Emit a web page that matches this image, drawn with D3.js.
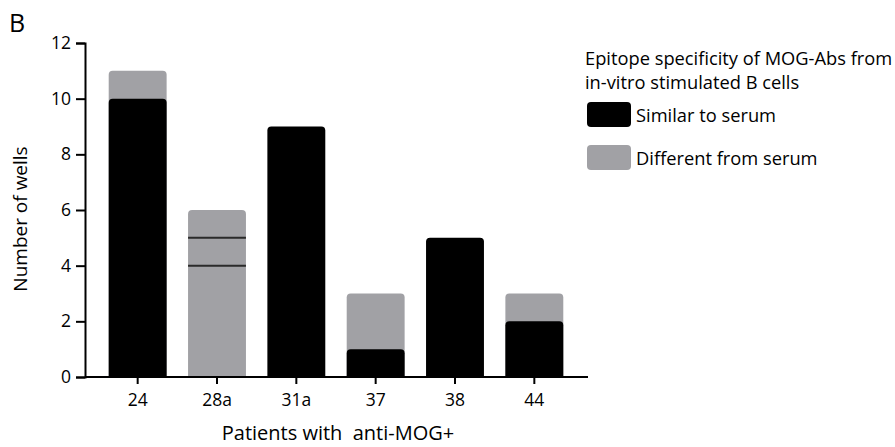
<!DOCTYPE html>
<html><head><meta charset="utf-8">
<script src="https://cdn.jsdelivr.net/npm/d3@7"></script>
<style>body{margin:0;background:#fff}svg{display:block;font-family:"Open Sans",sans-serif}</style>
</head><body>
<svg id="c" width="895" height="447"></svg>
<script>
const categories = ["24","28a","31a","37","38","44"];
const similar = [10,0,9,1,5,2];
const different = [1,6,0,2,0,1];
const dividers = {"28a":[4,5]};
const yTicks = [0,2,4,6,8,10,12];
const seriesNames = ["Similar to serum","Different from serum"];
const colors = ["#000000","#a1a1a5"];

const svg = d3.select("#c");
const x = d3.scaleBand().domain(categories).range([98,574]).paddingInner(0.27).paddingOuter(0.135);
const y = d3.scaleLinear().domain([0,12]).range([377,43]);

function topRounded(x0,w,yTop,yBot,r){
  r=Math.min(r,(yBot-yTop)/2,w/2);
  return `M${x0},${yBot}V${yTop+r}Q${x0},${yTop} ${x0+r},${yTop}H${x0+w-r}Q${x0+w},${yTop} ${x0+w},${yTop+r}V${yBot}Z`;
}

const g = svg.append("g");
categories.forEach((c,i)=>{
  const tot = similar[i]+different[i];
  if(different[i]>0) g.append("path").attr("d",topRounded(x(c),x.bandwidth(),y(tot),y(0),4)).attr("fill",colors[1]);
  if(similar[i]>0) g.append("path").attr("d",topRounded(x(c),x.bandwidth(),y(similar[i]),y(0),4)).attr("fill",colors[0]);
  (dividers[c]||[]).forEach(v=>{
    g.append("line").attr("x1",x(c)).attr("x2",x(c)+x.bandwidth()).attr("y1",y(v)).attr("y2",y(v))
      .attr("stroke","#2a2a2a").attr("stroke-width",2);
  });
});

const ya = svg.append("g").attr("transform","translate(85,0)")
  .call(d3.axisLeft(y).tickValues(yTicks).tickSize(9).tickPadding(5));
const xa = svg.append("g").attr("transform","translate(0,377)")
  .call(d3.axisBottom(x).tickSize(7).tickPadding(10));
xa.select(".domain").attr("d","M85,0H588");
[ya,xa].forEach(a=>{
  a.selectAll(".domain").attr("stroke","#000").attr("stroke-width",2);
  a.selectAll(".tick line").attr("stroke","#000").attr("stroke-width",2);
  a.selectAll("text").attr("font-size",17.5).attr("fill","#000").attr("font-family","Open Sans");
});

svg.append("text").attr("x",9).attr("y",32).attr("font-size",25).text("B");
svg.append("text").attr("transform","translate(27,219) rotate(-90)").attr("text-anchor","middle")
  .attr("font-size",19).text("Number of wells");
svg.append("text").attr("x",338).attr("y",440).attr("text-anchor","middle").attr("font-size",20)
  .style("white-space","pre").text("Patients with  anti-MOG+");

const lg = svg.append("g");
lg.append("text").attr("x",585).attr("y",65).attr("font-size",18.3).text("Epitope specificity of MOG-Abs from");
lg.append("text").attr("x",585).attr("y",89).attr("font-size",18.3).text("in-vitro stimulated B cells");
seriesNames.forEach((s,i)=>{
  const yy = 102 + i*43;
  lg.append("rect").attr("x",587).attr("y",yy).attr("width",44).attr("height",25).attr("rx",4).attr("fill",colors[i]);
  lg.append("text").attr("x",636).attr("y",yy+20).attr("font-size",18.3).text(s);
});
</script>
</body></html>
